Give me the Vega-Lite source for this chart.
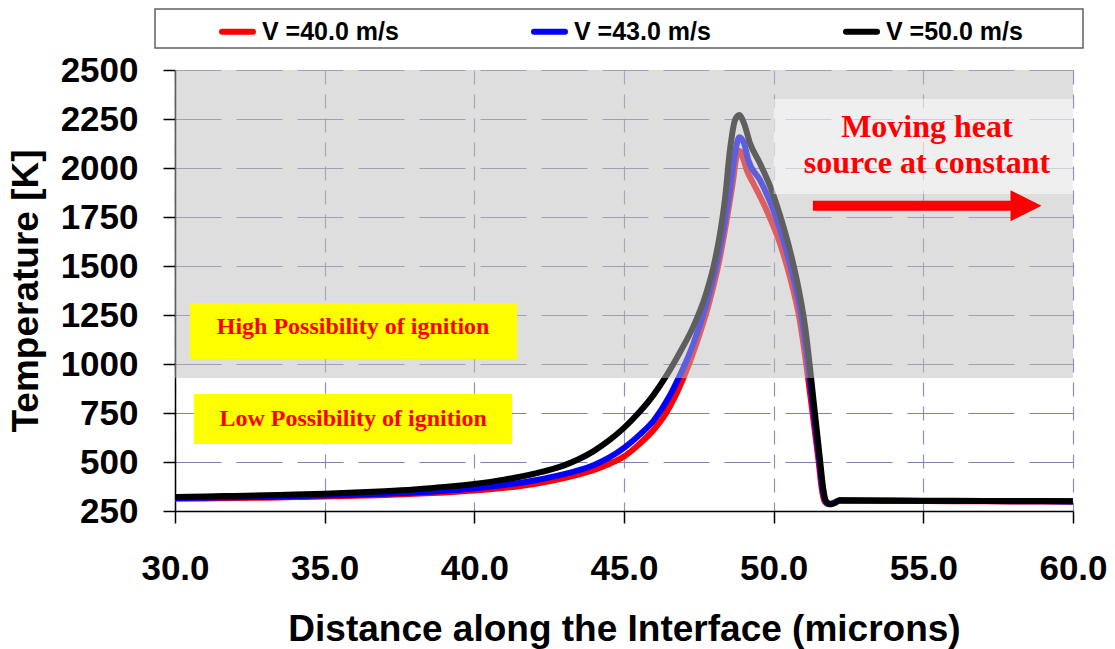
{
  "$schema": "https://vega.github.io/schema/vega-lite/v6.json",
  "width": 898,
  "height": 441,
  "autosize": {"type": "none"},
  "padding": {"left": 175, "top": 70, "right": 42, "bottom": 138},
  "background": "white",
  "config": {
    "view": {"stroke": null},
    "axis": {
      "domainColor": "black",
      "domainWidth": 1.5,
      "tickColor": "black",
      "tickWidth": 1.5,
      "tickSize": 12,
      "labelFont": "Liberation Sans",
      "labelFontWeight": "bold",
      "labelFontSize": 35,
      "labelColor": "black",
      "titleFont": "Liberation Sans",
      "titleFontWeight": "bold",
      "titleFontSize": 37,
      "titleColor": "black",
      "labelOverlap": false,
      "labelFlush": false,
      "grid": true,
      "gridWidth": 1.2
    },
    "legend": {
      "orient": "none",
      "legendX": 44,
      "legendY": -57,
      "direction": "horizontal",
      "columns": 3,
      "columnPadding": 123,
      "padding": 0,
      "symbolType": "stroke",
      "symbolSize": 961,
      "symbolStrokeWidth": 6,
      "labelFont": "Liberation Sans",
      "labelFontWeight": "bold",
      "labelFontSize": 25,
      "labelColor": "black",
      "labelOffset": 6,
      "labelLimit": 0
    }
  },
  "layer": [
    {
      "data": {"values": [{"x": 29.332, "x2": 60.334, "t": 2612, "t2": 2811}]},
      "mark": {"type": "rect", "fill": "white", "stroke": "#606060", "strokeWidth": 1.5},
      "encoding": {
        "x": {"field": "x", "type": "quantitative"},
        "x2": {"field": "x2"},
        "y": {"field": "t", "type": "quantitative"},
        "y2": {"field": "t2"}
      }
    },
    {
      "data": {"values": [
        {"s": "V =40.0 m/s", "x": 30, "t": 312}, {"s": "V =40.0 m/s", "x": 31, "t": 314}, {"s": "V =40.0 m/s", "x": 32, "t": 316}, {"s": "V =40.0 m/s", "x": 33, "t": 318}, {"s": "V =40.0 m/s", "x": 34, "t": 321}, {"s": "V =40.0 m/s", "x": 35, "t": 324}, {"s": "V =40.0 m/s", "x": 36, "t": 328}, {"s": "V =40.0 m/s", "x": 37, "t": 332}, {"s": "V =40.0 m/s", "x": 38, "t": 338}, {"s": "V =40.0 m/s", "x": 39, "t": 345}, {"s": "V =40.0 m/s", "x": 40, "t": 354}, {"s": "V =40.0 m/s", "x": 41, "t": 368}, {"s": "V =40.0 m/s", "x": 42, "t": 388}, {"s": "V =40.0 m/s", "x": 43, "t": 418}, {"s": "V =40.0 m/s", "x": 43.5, "t": 437}, {"s": "V =40.0 m/s", "x": 44, "t": 460}, {"s": "V =40.0 m/s", "x": 44.5, "t": 490}, {"s": "V =40.0 m/s", "x": 45, "t": 528}, {"s": "V =40.0 m/s", "x": 45.5, "t": 590}, {"s": "V =40.0 m/s", "x": 46, "t": 666}, {"s": "V =40.0 m/s", "x": 46.4, "t": 748}, {"s": "V =40.0 m/s", "x": 46.7, "t": 832}, {"s": "V =40.0 m/s", "x": 46.98, "t": 927}, {"s": "V =40.0 m/s", "x": 47.42, "t": 1105}, {"s": "V =40.0 m/s", "x": 47.87, "t": 1327}, {"s": "V =40.0 m/s", "x": 48.21, "t": 1548}, {"s": "V =40.0 m/s", "x": 48.43, "t": 1735}, {"s": "V =40.0 m/s", "x": 48.63, "t": 1922}, {"s": "V =40.0 m/s", "x": 48.76, "t": 2058}, {"s": "V =40.0 m/s", "x": 48.85, "t": 2088}, {"s": "V =40.0 m/s", "x": 48.98, "t": 2049}, {"s": "V =40.0 m/s", "x": 49.1, "t": 1990}, {"s": "V =40.0 m/s", "x": 49.32, "t": 1922}, {"s": "V =40.0 m/s", "x": 49.76, "t": 1786}, {"s": "V =40.0 m/s", "x": 50.21, "t": 1616}, {"s": "V =40.0 m/s", "x": 50.54, "t": 1446}, {"s": "V =40.0 m/s", "x": 50.87, "t": 1224}, {"s": "V =40.0 m/s", "x": 51.1, "t": 986}, {"s": "V =40.0 m/s", "x": 51.25, "t": 810}, {"s": "V =40.0 m/s", "x": 51.38, "t": 650}, {"s": "V =40.0 m/s", "x": 51.5, "t": 505}, {"s": "V =40.0 m/s", "x": 51.6, "t": 370}, {"s": "V =40.0 m/s", "x": 51.7, "t": 300}, {"s": "V =40.0 m/s", "x": 51.85, "t": 284}, {"s": "V =40.0 m/s", "x": 52.0, "t": 292}, {"s": "V =40.0 m/s", "x": 52.2, "t": 303}, {"s": "V =40.0 m/s", "x": 53, "t": 302}, {"s": "V =40.0 m/s", "x": 54, "t": 301}, {"s": "V =40.0 m/s", "x": 56, "t": 300}, {"s": "V =40.0 m/s", "x": 58, "t": 299}, {"s": "V =40.0 m/s", "x": 60, "t": 298},
        {"s": "V =43.0 m/s", "x": 30, "t": 316}, {"s": "V =43.0 m/s", "x": 31, "t": 318}, {"s": "V =43.0 m/s", "x": 32, "t": 320}, {"s": "V =43.0 m/s", "x": 33, "t": 322}, {"s": "V =43.0 m/s", "x": 34, "t": 325}, {"s": "V =43.0 m/s", "x": 35, "t": 329}, {"s": "V =43.0 m/s", "x": 36, "t": 333}, {"s": "V =43.0 m/s", "x": 37, "t": 338}, {"s": "V =43.0 m/s", "x": 38, "t": 344}, {"s": "V =43.0 m/s", "x": 39, "t": 353}, {"s": "V =43.0 m/s", "x": 40, "t": 366}, {"s": "V =43.0 m/s", "x": 41, "t": 383}, {"s": "V =43.0 m/s", "x": 42, "t": 406}, {"s": "V =43.0 m/s", "x": 43, "t": 438}, {"s": "V =43.0 m/s", "x": 43.5, "t": 459}, {"s": "V =43.0 m/s", "x": 44, "t": 485}, {"s": "V =43.0 m/s", "x": 44.5, "t": 522}, {"s": "V =43.0 m/s", "x": 45, "t": 572}, {"s": "V =43.0 m/s", "x": 45.5, "t": 636}, {"s": "V =43.0 m/s", "x": 46, "t": 713}, {"s": "V =43.0 m/s", "x": 46.5, "t": 830}, {"s": "V =43.0 m/s", "x": 46.82, "t": 927}, {"s": "V =43.0 m/s", "x": 47.32, "t": 1105}, {"s": "V =43.0 m/s", "x": 47.76, "t": 1310}, {"s": "V =43.0 m/s", "x": 48.1, "t": 1514}, {"s": "V =43.0 m/s", "x": 48.32, "t": 1684}, {"s": "V =43.0 m/s", "x": 48.54, "t": 1888}, {"s": "V =43.0 m/s", "x": 48.71, "t": 2075}, {"s": "V =43.0 m/s", "x": 48.85, "t": 2157}, {"s": "V =43.0 m/s", "x": 49.01, "t": 2126}, {"s": "V =43.0 m/s", "x": 49.15, "t": 2041}, {"s": "V =43.0 m/s", "x": 49.54, "t": 1939}, {"s": "V =43.0 m/s", "x": 49.99, "t": 1786}, {"s": "V =43.0 m/s", "x": 50.32, "t": 1633}, {"s": "V =43.0 m/s", "x": 50.65, "t": 1446}, {"s": "V =43.0 m/s", "x": 50.93, "t": 1241}, {"s": "V =43.0 m/s", "x": 51.16, "t": 986}, {"s": "V =43.0 m/s", "x": 51.3, "t": 810}, {"s": "V =43.0 m/s", "x": 51.42, "t": 650}, {"s": "V =43.0 m/s", "x": 51.53, "t": 505}, {"s": "V =43.0 m/s", "x": 51.63, "t": 370}, {"s": "V =43.0 m/s", "x": 51.73, "t": 300}, {"s": "V =43.0 m/s", "x": 51.88, "t": 284}, {"s": "V =43.0 m/s", "x": 52.03, "t": 292}, {"s": "V =43.0 m/s", "x": 52.2, "t": 304}, {"s": "V =43.0 m/s", "x": 53, "t": 303}, {"s": "V =43.0 m/s", "x": 54, "t": 302}, {"s": "V =43.0 m/s", "x": 56, "t": 301}, {"s": "V =43.0 m/s", "x": 58, "t": 300}, {"s": "V =43.0 m/s", "x": 60, "t": 299},
        {"s": "V =50.0 m/s", "x": 30, "t": 322}, {"s": "V =50.0 m/s", "x": 31, "t": 324}, {"s": "V =50.0 m/s", "x": 32, "t": 327}, {"s": "V =50.0 m/s", "x": 33, "t": 330}, {"s": "V =50.0 m/s", "x": 34, "t": 334}, {"s": "V =50.0 m/s", "x": 35, "t": 338}, {"s": "V =50.0 m/s", "x": 36, "t": 344}, {"s": "V =50.0 m/s", "x": 37, "t": 351}, {"s": "V =50.0 m/s", "x": 38, "t": 360}, {"s": "V =50.0 m/s", "x": 39, "t": 372}, {"s": "V =50.0 m/s", "x": 40, "t": 388}, {"s": "V =50.0 m/s", "x": 41, "t": 410}, {"s": "V =50.0 m/s", "x": 42, "t": 440}, {"s": "V =50.0 m/s", "x": 43, "t": 483}, {"s": "V =50.0 m/s", "x": 43.5, "t": 515}, {"s": "V =50.0 m/s", "x": 44, "t": 557}, {"s": "V =50.0 m/s", "x": 44.5, "t": 610}, {"s": "V =50.0 m/s", "x": 45, "t": 674}, {"s": "V =50.0 m/s", "x": 45.5, "t": 752}, {"s": "V =50.0 m/s", "x": 46, "t": 845}, {"s": "V =50.0 m/s", "x": 46.37, "t": 929}, {"s": "V =50.0 m/s", "x": 46.87, "t": 1060}, {"s": "V =50.0 m/s", "x": 47.32, "t": 1192}, {"s": "V =50.0 m/s", "x": 47.71, "t": 1343}, {"s": "V =50.0 m/s", "x": 47.99, "t": 1496}, {"s": "V =50.0 m/s", "x": 48.21, "t": 1667}, {"s": "V =50.0 m/s", "x": 48.37, "t": 1837}, {"s": "V =50.0 m/s", "x": 48.54, "t": 2092}, {"s": "V =50.0 m/s", "x": 48.71, "t": 2245}, {"s": "V =50.0 m/s", "x": 48.85, "t": 2270}, {"s": "V =50.0 m/s", "x": 49.01, "t": 2228}, {"s": "V =50.0 m/s", "x": 49.21, "t": 2126}, {"s": "V =50.0 m/s", "x": 49.54, "t": 2024}, {"s": "V =50.0 m/s", "x": 49.93, "t": 1888}, {"s": "V =50.0 m/s", "x": 50.26, "t": 1735}, {"s": "V =50.0 m/s", "x": 50.54, "t": 1582}, {"s": "V =50.0 m/s", "x": 50.82, "t": 1394}, {"s": "V =50.0 m/s", "x": 51.05, "t": 1190}, {"s": "V =50.0 m/s", "x": 51.21, "t": 986}, {"s": "V =50.0 m/s", "x": 51.33, "t": 816}, {"s": "V =50.0 m/s", "x": 51.45, "t": 650}, {"s": "V =50.0 m/s", "x": 51.55, "t": 510}, {"s": "V =50.0 m/s", "x": 51.66, "t": 360}, {"s": "V =50.0 m/s", "x": 51.76, "t": 298}, {"s": "V =50.0 m/s", "x": 51.92, "t": 285}, {"s": "V =50.0 m/s", "x": 52.07, "t": 293}, {"s": "V =50.0 m/s", "x": 52.2, "t": 305}, {"s": "V =50.0 m/s", "x": 53, "t": 304}, {"s": "V =50.0 m/s", "x": 54, "t": 303}, {"s": "V =50.0 m/s", "x": 56, "t": 302}, {"s": "V =50.0 m/s", "x": 58, "t": 301}, {"s": "V =50.0 m/s", "x": 60, "t": 300}
      ]},
      "mark": {"type": "line", "strokeWidth": 6, "interpolate": "monotone"},
      "encoding": {
        "x": {
          "field": "x", "type": "quantitative",
          "scale": {"domain": [30, 60], "nice": false, "zero": false},
          "axis": {
            "title": "Distance along the Interface (microns)",
            "values": [30, 35, 40, 45, 50, 55, 60],
            "format": ".1f",
            "labelPadding": 28,
            "titlePadding": 25,
            "gridDash": [14, 10],
            "gridColor": "#9090bb"
          }
        },
        "y": {
          "field": "t", "type": "quantitative",
          "scale": {"domain": [250, 2500], "nice": false, "zero": false},
          "axis": {
            "title": "Temperature [K]",
            "values": [250, 500, 750, 1000, 1250, 1500, 1750, 2000, 2250, 2500],
            "format": "d",
            "labelPadding": 25,
            "titlePadding": 15,
            "gridDash": [46, 15],
            "gridColor": "#8080b0"
          }
        },
        "color": {
          "field": "s", "type": "nominal",
          "scale": {"domain": ["V =40.0 m/s", "V =43.0 m/s", "V =50.0 m/s"], "range": ["#ff0000", "#0000ff", "#000000"]},
          "legend": {"title": null, "encode": {"symbols": {"update": {"strokeCap": {"value": "round"}}}}}
        }
      }
    },
    {
      "data": {"values": [{"x": 30, "x2": 60, "t": 929, "t2": 2500}]},
      "mark": {"type": "rect", "fill": "#bebebe", "opacity": 0.5},
      "encoding": {
        "x": {"field": "x", "type": "quantitative"},
        "x2": {"field": "x2"},
        "y": {"field": "t", "type": "quantitative"},
        "y2": {"field": "t2"}
      }
    },
    {
      "data": {"values": [{"x": 50.0, "x2": 60, "t": 1867, "t2": 2352}]},
      "mark": {"type": "rect", "fill": "white", "opacity": 0.5},
      "encoding": {
        "x": {"field": "x", "type": "quantitative"},
        "x2": {"field": "x2"},
        "y": {"field": "t", "type": "quantitative"},
        "y2": {"field": "t2"}
      }
    },
    {
      "data": {"values": [
        {"x": 30.5, "x2": 41.43, "t": 1025, "t2": 1311},
        {"x": 30.63, "x2": 41.26, "t": 592, "t2": 847}
      ]},
      "mark": {"type": "rect", "fill": "#ffff00"},
      "encoding": {
        "x": {"field": "x", "type": "quantitative"},
        "x2": {"field": "x2"},
        "y": {"field": "t", "type": "quantitative"},
        "y2": {"field": "t2"}
      }
    },
    {
      "data": {"values": [
        {"x": 35.95, "t": 1153, "label": "High Possibility of ignition"},
        {"x": 35.95, "t": 684, "label": "Low Possibility of ignition"}
      ]},
      "mark": {"type": "text", "font": "Liberation Serif", "fontWeight": "bold", "fontSize": 24, "color": "#ff0000", "align": "center", "baseline": "alphabetic"},
      "encoding": {
        "x": {"field": "x", "type": "quantitative"},
        "y": {"field": "t", "type": "quantitative"},
        "text": {"field": "label"}
      }
    },
    {
      "data": {"values": [
        {"x": 55.12, "t": 2160, "label": "Moving heat"},
        {"x": 55.12, "t": 1973, "label": "source at constant"}
      ]},
      "mark": {"type": "text", "font": "Liberation Serif", "fontWeight": "bold", "fontSize": 32, "color": "#ff0000", "align": "center", "baseline": "alphabetic"},
      "encoding": {
        "x": {"field": "x", "type": "quantitative"},
        "y": {"field": "t", "type": "quantitative"},
        "text": {"field": "label"}
      }
    },
    {
      "data": {"values": [{"x": 51.31, "x2": 57.96, "t": 1807}]},
      "mark": {"type": "rule", "color": "#ff0000", "strokeWidth": 10, "strokeCap": "butt"},
      "encoding": {
        "x": {"field": "x", "type": "quantitative"},
        "x2": {"field": "x2"},
        "y": {"field": "t", "type": "quantitative"}
      }
    },
    {
      "data": {"values": [{"x": 58.43, "t": 1807}]},
      "mark": {"type": "point", "shape": "M-1,-1L1,0L-1,1Z", "size": 961, "filled": true, "fill": "#ff0000", "opacity": 1, "strokeWidth": 0},
      "encoding": {
        "x": {"field": "x", "type": "quantitative"},
        "y": {"field": "t", "type": "quantitative"}
      }
    }
  ]
}
